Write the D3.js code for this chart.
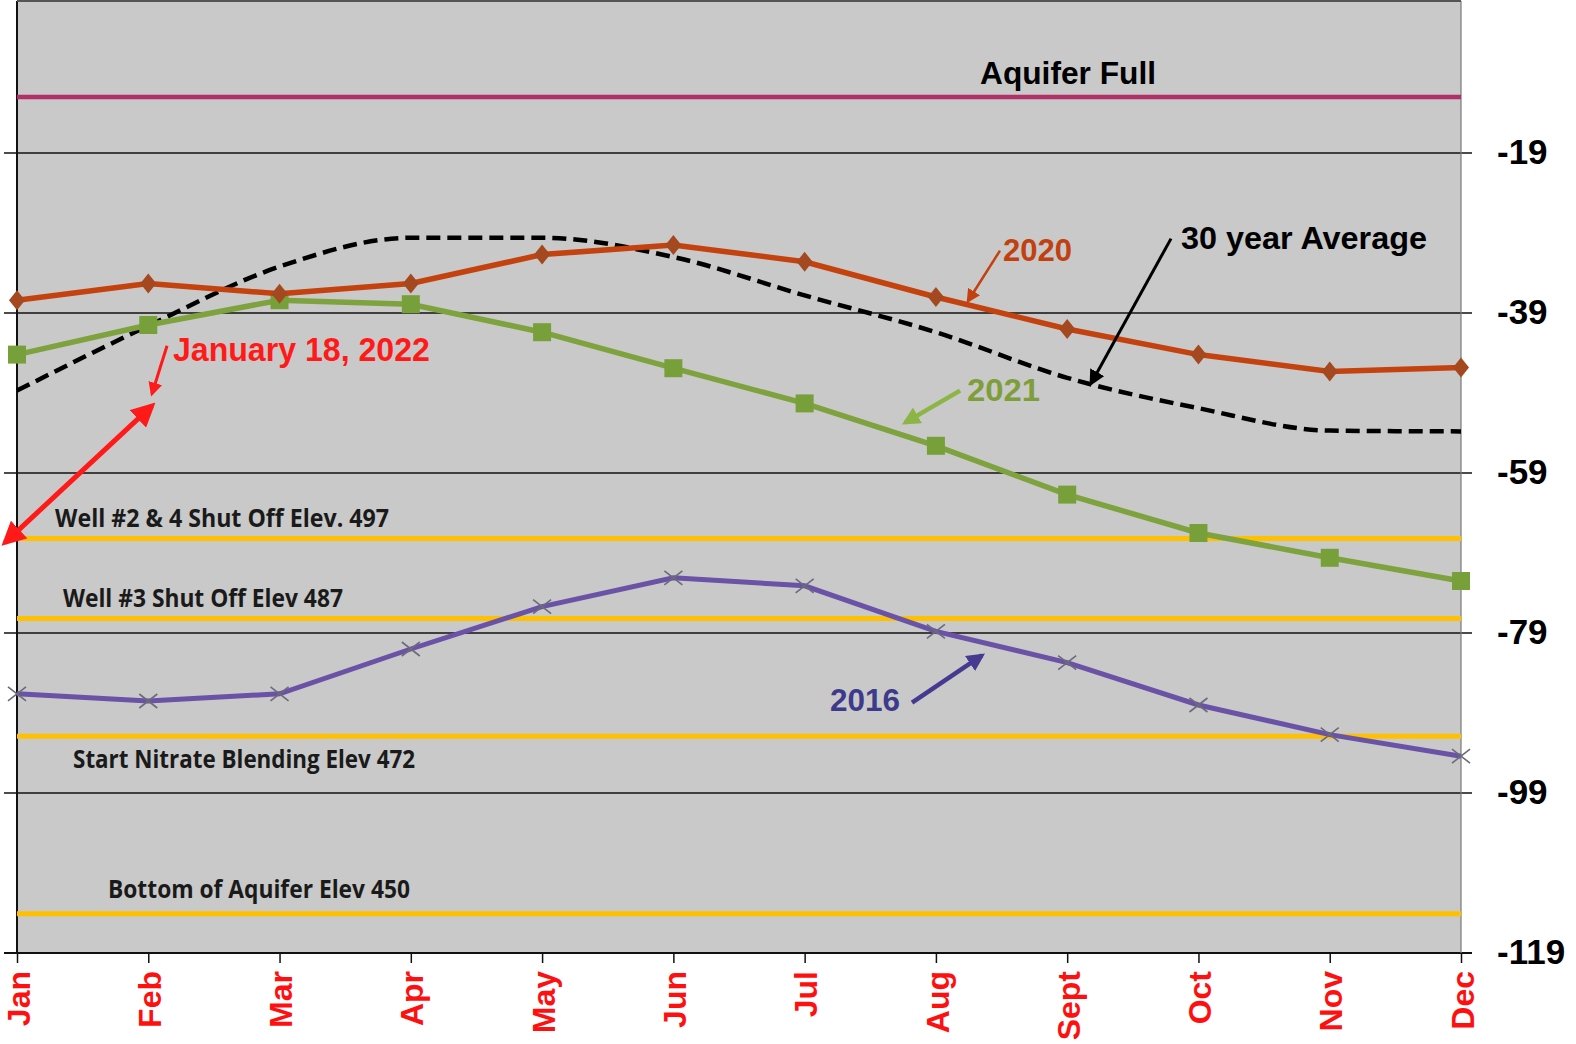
<!DOCTYPE html>
<html>
<head>
<meta charset="utf-8">
<script src="https://cdn.jsdelivr.net/npm/d3@7"></script>
<style>
  body { margin: 0; background: #fff; }
  svg { display: block; }
</style>
</head>
<body>
<div id="chart"></div>
<script>
// values (depth units, 0 = top of chart)
const months = ['Jan', 'Feb', 'Mar', 'Apr', 'May', 'Jun', 'Jul', 'Aug', 'Sept', 'Oct', 'Nov', 'Dec'];
const avg30 = [-48.7, -40.6, -33.2, -29.6, -29.6, -32.0, -36.8, -41.4, -47.1, -50.9, -53.7, -53.8];
const y2020 = [-37.4, -35.3, -36.6, -35.3, -31.7, -30.5, -32.6, -37.0, -41.0, -44.2, -46.3, -45.8];
const y2021 = [-44.2, -40.5, -37.4, -37.9, -41.4, -45.9, -50.3, -55.6, -61.7, -66.5, -69.6, -72.5];
const y2016 = [-86.6, -87.5, -86.6, -81.0, -75.7, -72.1, -73.1, -78.8, -82.7, -88.0, -91.7, -94.4];
const yTicks = [-19, -39, -59, -79, -99, -119];

const refLabels = ['Aquifer Full', 'Well #2 & 4 Shut Off Elev. 497', 'Well #3 Shut Off Elev 487',
  'Start Nitrate Blending Elev 472', 'Bottom of Aquifer Elev 450'];
const refValues = [-12.0, -67.2, -77.2, -91.9, -114.1];

const W = 1576, H = 1044;
const margin = { top: 1, right: 115, bottom: 91, left: 17 };
const width = W - margin.left - margin.right;
const height = H - margin.top - margin.bottom;

const x = d3.scalePoint().domain(months).range([0, width]);
// fractional month position, for the annotations
const xm = d3.scaleLinear().domain([0, months.length - 1]).range([0, width]);
const y = d3.scaleLinear().domain([-119, 0]).range([height, 0]);

const svg = d3.select('#chart').append('svg')
    .attr('width', W)
    .attr('height', H);

const defs = svg.append('defs');
function arrowHead(id, color, size) {
  defs.append('marker')
      .attr('id', id)
      .attr('viewBox', '0 -5 10 10')
      .attr('refX', 8)
      .attr('refY', 0)
      .attr('markerUnits', 'userSpaceOnUse')
      .attr('markerWidth', size)
      .attr('markerHeight', size)
      .attr('orient', 'auto-start-reverse')
    .append('path')
      .attr('d', 'M0,-5L10,0L0,5Z')
      .attr('fill', color);
}
arrowHead('ah-red', '#ff1a1a', 24);
arrowHead('ah-red-s', '#ff1a1a', 14);
arrowHead('ah-2020', '#c2410f', 14);
arrowHead('ah-avg', '#000', 16);
arrowHead('ah-2021', '#8bb545', 18);
arrowHead('ah-2016', '#453a8f', 18);

const g = svg.append('g')
    .attr('transform', `translate(${margin.left},${margin.top})`);

// plot background
g.append('rect')
    .attr('width', width)
    .attr('height', height)
    .attr('fill', '#c9c9c9');

// gridlines with outer ticks on both sides
g.append('g')
  .selectAll('line')
  .data(yTicks)
  .enter().append('line')
    .attr('x1', -13)
    .attr('x2', width + 11)
    .attr('y1', d => y(d))
    .attr('y2', d => y(d))
    .attr('stroke', '#111')
    .attr('stroke-width', d => (d === -119 ? 2 : 1.4));

// y labels on the right
g.append('g')
  .selectAll('text')
  .data(yTicks)
  .enter().append('text')
    .attr('x', width + 36)
    .attr('y', d => y(d))
    .attr('dy', '0.3em')
    .attr('font-family', '"Liberation Sans", Arial, sans-serif')
    .attr('font-weight', 'bold')
    .attr('font-size', 35)
    .attr('fill', '#000')
    .text(d => d);

// frame
g.append('line').attr('x1', 0).attr('x2', 0).attr('y1', 0).attr('y2', height)
    .attr('stroke', '#111').attr('stroke-width', 2);
g.append('line').attr('x1', width).attr('x2', width).attr('y1', 0).attr('y2', height)
    .attr('stroke', '#7a7a7a').attr('stroke-width', 1.2);
g.append('line').attr('x1', 0).attr('x2', width).attr('y1', 0).attr('y2', 0)
    .attr('stroke', '#555').attr('stroke-width', 2);

// x axis
const xAxis = g.append('g')
    .attr('transform', `translate(0,${height})`)
    .call(d3.axisBottom(x).tickSize(10).tickSizeOuter(0));
xAxis.select('.domain').remove();
xAxis.selectAll('.tick line').attr('stroke', '#111').attr('stroke-width', 1.5);
xAxis.selectAll('.tick text')
    .attr('font-family', '"Liberation Sans", Arial, sans-serif')
    .attr('font-weight', 'bold')
    .attr('font-size', 32)
    .attr('fill', '#ff1010')
    .attr('text-anchor', 'end')
    .attr('transform', 'rotate(-90)')
    .attr('x', -18)
    .attr('y', 0)
    .attr('dy', '0.38em');

// reference levels
const refColors = ['#b2306a', '#ffc000', '#ffc000', '#ffc000', '#ffc000'];
g.append('g')
  .selectAll('line')
  .data(refValues)
  .enter().append('line')
    .attr('x1', 0)
    .attr('x2', width)
    .attr('y1', d => y(d))
    .attr('y2', d => y(d))
    .attr('stroke', (d, i) => refColors[i])
    .attr('stroke-width', (d, i) => (i === 0 ? 4.5 : 5));

// reference labels: [month pos, value, text width]
const refLabelPos = [[7.336, -10.4, 176], [0.29, -65.8, 334], [0.35, -75.8, 280], [0.427, -95.9, 342], [0.693, -112.1, 302]];
g.append('g')
  .selectAll('text')
  .data(refLabels)
  .enter().append('text')
    .attr('x', (d, i) => xm(refLabelPos[i][0]))
    .attr('y', (d, i) => y(refLabelPos[i][1]))
    .attr('font-family', (d, i) => (i === 0 ? '"Liberation Sans", Arial, sans-serif' : '"Open Sans", "Noto Sans", sans-serif'))
    .attr('font-weight', 'bold')
    .attr('font-size', (d, i) => (i === 0 ? 32 : 25))
    .attr('textLength', (d, i) => refLabelPos[i][2])
    .attr('lengthAdjust', 'spacingAndGlyphs')
    .attr('fill', (d, i) => (i === 0 ? '#000' : '#1a1a1a'))
    .text(d => d);

// series
const line = d3.line()
    .x((d, i) => x(months[i]))
    .y(d => y(d));

g.append('path')
    .datum(avg30)
    .attr('fill', 'none')
    .attr('stroke', '#000')
    .attr('stroke-width', 4.5)
    .attr('stroke-dasharray', '14,7')
    .attr('d', line.curve(d3.curveMonotoneX));

line.curve(d3.curveLinear);

g.append('path')
    .datum(y2016)
    .attr('fill', 'none')
    .attr('stroke', '#6a52a6')
    .attr('stroke-width', 5)
    .attr('d', line);
g.append('g')
  .selectAll('path')
  .data(y2016)
  .enter().append('path')
    .attr('transform', (d, i) => `translate(${x(months[i])},${y(d)})`)
    .attr('d', 'M-9,-7L9,7M-9,7L9,-7')
    .attr('stroke', '#6b6b7a')
    .attr('stroke-width', 1.6)
    .attr('fill', 'none');

g.append('path')
    .datum(y2021)
    .attr('fill', 'none')
    .attr('stroke', '#7ea33e')
    .attr('stroke-width', 5.5)
    .attr('d', line);
g.append('g')
  .selectAll('rect')
  .data(y2021)
  .enter().append('rect')
    .attr('x', (d, i) => x(months[i]) - 9)
    .attr('y', d => y(d) - 9)
    .attr('width', 18)
    .attr('height', 18)
    .attr('fill', '#78a03a');

g.append('path')
    .datum(y2020)
    .attr('fill', 'none')
    .attr('stroke', '#c3420e')
    .attr('stroke-width', 5.5)
    .attr('d', line);
g.append('g')
  .selectAll('path')
  .data(y2020)
  .enter().append('path')
    .attr('transform', (d, i) => `translate(${x(months[i])},${y(d)})`)
    .attr('d', 'M0,-10L8,0L0,10L-8,0Z')
    .attr('fill', '#a4481f');

// annotations
const noteTexts = ['January 18, 2022', '2020', '30 year Average', '2021', '2016'];
const notePos = [[1.188, -44.95], [7.511, -32.47], [8.867, -30.97], [7.237, -49.95], [6.193, -88.8]];
const noteColors = ['#ff1a1a', '#c0400f', '#000', '#7e9e3a', '#3d3a8c'];
const noteSizes = [33, 31, 32, 32, 31];
const noteWidths = [257, 69, 246, 73, 70];

g.append('g')
  .selectAll('text')
  .data(noteTexts)
  .enter().append('text')
    .attr('x', (d, i) => xm(notePos[i][0]))
    .attr('y', (d, i) => y(notePos[i][1]))
    .attr('font-family', '"Liberation Sans", Arial, sans-serif')
    .attr('font-weight', 'bold')
    .attr('font-size', (d, i) => noteSizes[i])
    .attr('textLength', (d, i) => noteWidths[i])
    .attr('lengthAdjust', 'spacingAndGlyphs')
    .attr('fill', (d, i) => noteColors[i])
    .text(d => d);

// arrows: [from month, from value, to month, to value]
const arrows = [
  { p: [1.143, -43.1, 1.028, -49.1], c: '#ff1a1a', w: 3, end: 'ah-red-s' },
  { p: [1.028, -50.6, -0.091, -67.7], c: '#ff1a1a', w: 5, end: 'ah-red', start: 'ah-red' },
  { p: [7.488, -31.2, 7.245, -37.5], c: '#c2410f', w: 2.5, end: 'ah-2020' },
  { p: [8.791, -29.7, 8.182, -47.8], c: '#000', w: 3, end: 'ah-avg' },
  { p: [7.184, -48.7, 6.765, -52.7], c: '#8bb545', w: 4.5, end: 'ah-2021' },
  { p: [6.818, -87.7, 7.351, -81.8], c: '#453a8f', w: 4.5, end: 'ah-2016' },
];
g.append('g')
  .selectAll('line')
  .data(arrows)
  .enter().append('line')
    .attr('x1', d => xm(d.p[0]))
    .attr('y1', d => y(d.p[1]))
    .attr('x2', d => xm(d.p[2]))
    .attr('y2', d => y(d.p[3]))
    .attr('stroke', d => d.c)
    .attr('stroke-width', d => d.w)
    .attr('marker-end', d => `url(#${d.end})`)
    .attr('marker-start', d => (d.start ? `url(#${d.start})` : null));
</script>
</body>
</html>
